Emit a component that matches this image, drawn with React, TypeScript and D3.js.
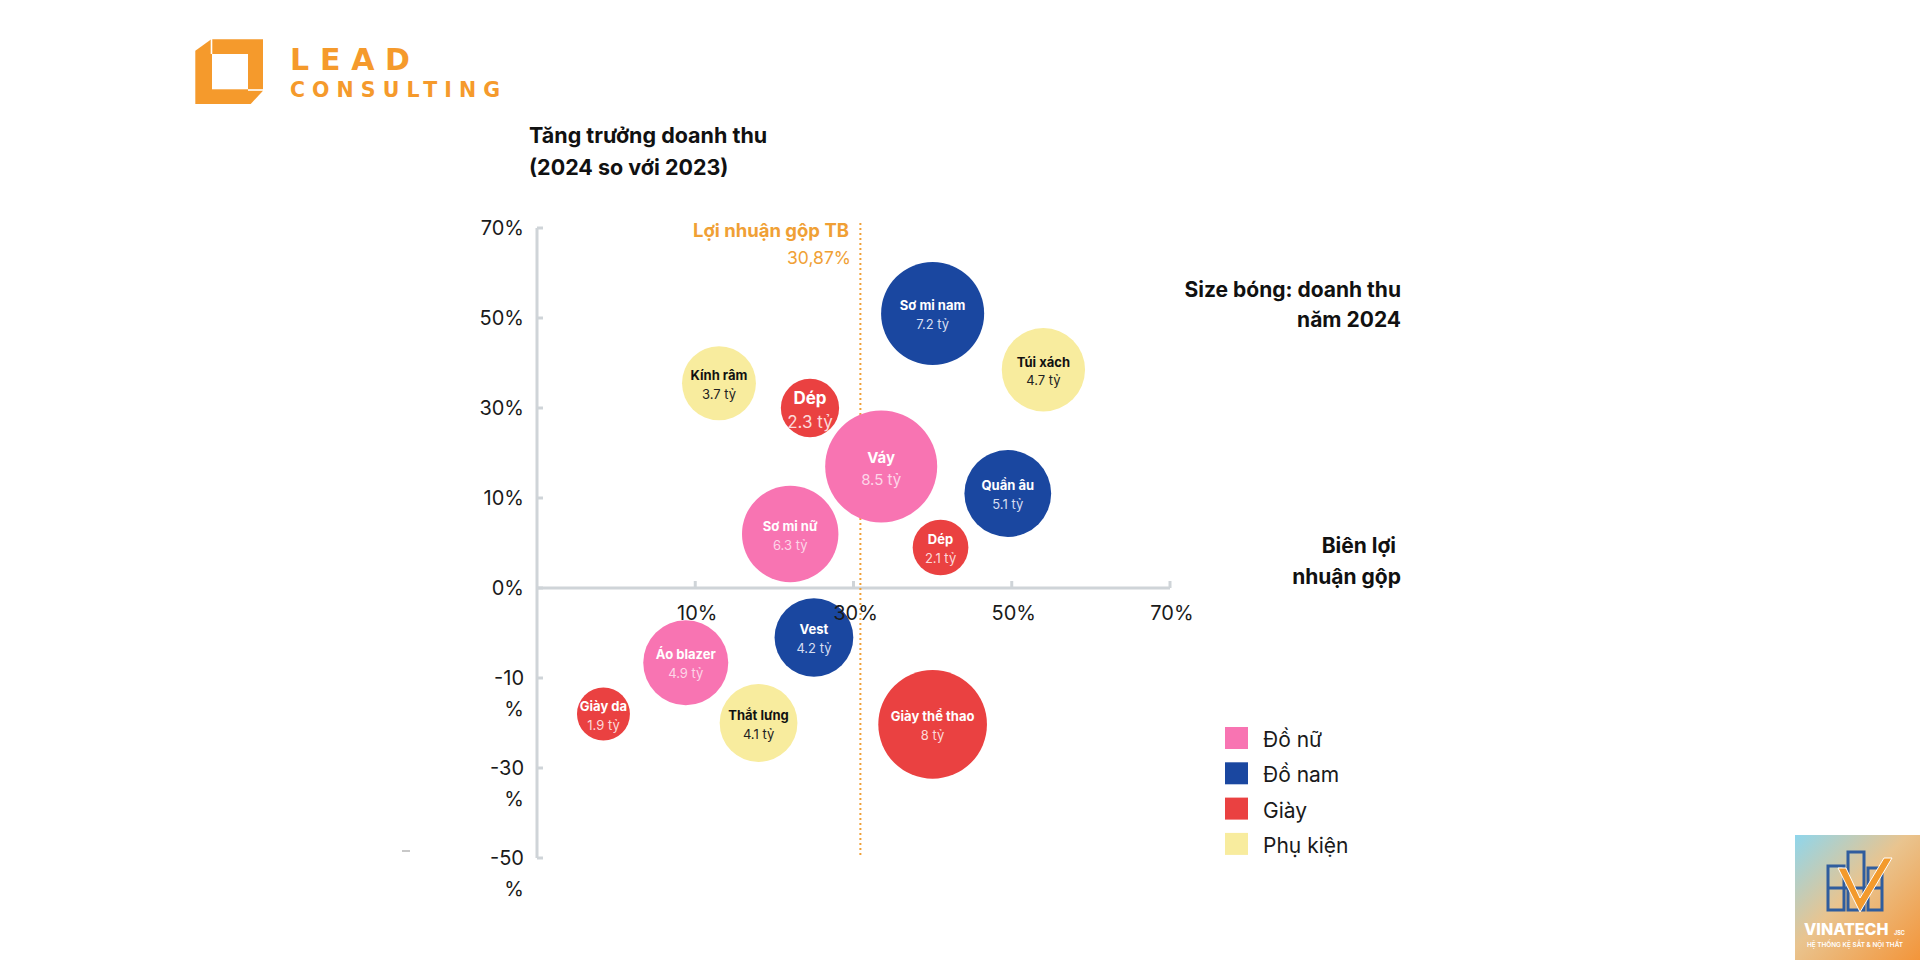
import React from "react";
import * as d3 from "d3";

// biên lợi nhuận gộp (%), tăng trưởng doanh thu 2024/2023 (%), doanh thu 2024 (tỷ)
const products = ["Sơ mi nam", "Túi xách", "Kính râm", "Dép", "Váy", "Quần âu", "Sơ mi nữ", "Dép", "Vest", "Áo blazer", "Giày da", "Thắt lưng", "Giày thể thao"];
const productGroup = ["Đồ nam", "Phụ kiện", "Phụ kiện", "Giày", "Đồ nữ", "Đồ nam", "Đồ nữ", "Giày", "Đồ nam", "Đồ nữ", "Giày", "Phụ kiện", "Giày"];
const grossMargin = [40, 54, 13, 24.5, 33.5, 49.5, 22, 41, 25, 9.4, 4.2, 18, 40];
const revenueGrowth = [51, 38.5, 35.5, 30, 17, 11, 6, 4.5, -5.5, -8.3, -18, -20, -20.3];
const revenue = [7.2, 4.7, 3.7, 2.3, 8.5, 5.1, 6.3, 2.1, 4.2, 4.9, 1.9, 4.1, 8];

const groups = ["Đồ nữ", "Đồ nam", "Giày", "Phụ kiện"];
const groupColors = ["#f874b2", "#1a47a0", "#ea4141", "#f8ec9e"];

const xTicks = [10, 30, 50, 70];
const yTicks = [70, 50, 30, 10, 0, -10, -30, -50];
const avgMargin = 30.87;

const FONT = "Inter, 'Noto Sans', sans-serif";
const ORANGE = "#f0a035";
const AXIS = "#cfd4d8";

// the axes are spaced evenly per tick, so both scales are piecewise linear
const X0 = 537, XSTEP = 158.25;
const Y0 = 228, YSTEP = 90;
const xDomain = [0, ...xTicks];
const x = d3.scaleLinear().domain(xDomain).range(xDomain.map((_, i) => X0 + i * XSTEP));
const y = d3.scaleLinear().domain(yTicks).range(yTicks.map((_, i) => Y0 + i * YSTEP));
const r = d3.scaleSqrt().domain([0, 8.5]).range([0, 56]);
const color = d3.scaleOrdinal<string, string>().domain(groups).range(groupColors);

const nameInk: Record<string, string> = { "Đồ nữ": "#ffffff", "Đồ nam": "#ffffff", "Giày": "#ffffff", "Phụ kiện": "#111111" };
const valueInk: Record<string, string> = { "Đồ nữ": "#fdd6e8", "Đồ nam": "#d6def2", "Giày": "#fcd9d9", "Phụ kiện": "#222222" };
// a couple of bubbles carry larger labels
const labelPx: Record<number, number> = { 3: 17, 4: 15 };

const bubbles = products.map((name, i) => ({
  name,
  group: productGroup[i],
  margin: grossMargin[i],
  growth: revenueGrowth[i],
  rev: revenue[i],
  i,
}));

const Logo = () => (
  <g>
    <path d="M195.3,50.7 L211.3,39.3 L263,39.3 L263,90.7 L250.7,104 L195.3,104 Z" fill="#f59a2c" />
    <rect x={212} y={54} width={36} height={35.3} fill="#fff" />
    <line x1={211.5} y1={38} x2={211.5} y2={54} stroke="#fff" strokeWidth={1.6} />
    <line x1={248} y1={90} x2={264} y2={90} stroke="#fff" strokeWidth={1.6} />
    <text x={290} y={70} fontFamily="'DejaVu Sans', sans-serif" fontWeight={700} fontSize={30} fill="#f59a2c"
      textLength={120} lengthAdjust="spacing">LEAD</text>
    <text x={290} y={97} fontFamily="'DejaVu Sans', sans-serif" fontWeight={700} fontSize={20.5} fill="#f59a2c"
      textLength={210} lengthAdjust="spacing">CONSULTING</text>
  </g>
);

const Badge = () => (
  <g>
    <defs>
      <linearGradient id="badgeBg" x1="0" y1="0" x2="1" y2="1">
        <stop offset="0%" stopColor="#8fd6ec" />
        <stop offset="45%" stopColor="#e9c48f" />
        <stop offset="100%" stopColor="#f3953a" />
      </linearGradient>
    </defs>
    <rect x={1795} y={835} width={125} height={125} fill="url(#badgeBg)" />
    <g fill="none" stroke="#2f5d9e" strokeWidth={3}>
      <rect x={1828} y={866} width={16} height={44} />
      <rect x={1848} y={852} width={16} height={58} />
      <rect x={1868} y={868} width={14} height={42} />
      <line x1={1828} y1={888} x2={1882} y2={888} />
    </g>
    <path d="M1838,868 L1860,912 L1892,858 L1884,858 L1860,898 L1846,868 Z" fill="#f39a2c" stroke="#fff" strokeWidth={1} />
    <text x={1804} y={935} fontFamily={FONT} fontWeight={800} fontSize={16} fill="#fff">VINATECH</text>
    <text x={1894} y={935} fontFamily={FONT} fontWeight={700} fontSize={5.5} fill="#fff">JSC</text>
    <text x={1807} y={947} fontFamily={FONT} fontWeight={600} fontSize={6.2} fill="#fff"
      textLength={96} lengthAdjust="spacingAndGlyphs">HỆ THỐNG KỆ SẮT &amp; NỘI THẤT</text>
  </g>
);

const App = () => {
  const yTop = y(yTicks[0]);
  const yBottom = y(yTicks[yTicks.length - 1]);
  const xLeft = x(0);
  const xRight = x(xTicks[xTicks.length - 1]);
  const yZero = y(0);

  return (
    <svg width={1920} height={960} style={{ position: "absolute", left: 0, top: 0, background: "#fff" }}>
      <rect width={1920} height={960} fill="#fff" />
      <Logo />

      <text fontFamily={FONT} fontWeight={700} fontSize={21.5} fill="#111">
        <tspan x={529} y={143}>Tăng trưởng doanh thu</tspan>
        <tspan x={529} y={175}>(2024 so với 2023)</tspan>
      </text>

      <text fontFamily={FONT} fontWeight={700} fontSize={21} fill="#111" textAnchor="end">
        <tspan x={1401} y={297}>Size bóng: doanh thu</tspan>
        <tspan x={1401} y={327}>năm 2024</tspan>
      </text>

      <text fontFamily={FONT} fontWeight={700} fontSize={21} fill="#111" textAnchor="end">
        <tspan x={1396} y={553}>Biên lợi</tspan>
        <tspan x={1401} y={584}>nhuận gộp</tspan>
      </text>

      {/* axes */}
      <g stroke={AXIS} strokeWidth={3} fill="none">
        <line x1={xLeft} y1={yTop} x2={xLeft} y2={yBottom} />
        <line x1={xLeft} y1={yZero} x2={xRight} y2={yZero} />
        {yTicks.map((t) => (
          <line key={"yt" + t} x1={xLeft} x2={xLeft + 6} y1={y(t)} y2={y(t)} />
        ))}
        {xTicks.map((t) => (
          <line key={"xt" + t} x1={x(t)} x2={x(t)} y1={yZero} y2={yZero - 7} />
        ))}
      </g>
      <line x1={402} x2={410} y1={851} y2={851} stroke="#c8c8c8" strokeWidth={2} />

      {/* average gross margin */}
      <line x1={x(avgMargin)} x2={x(avgMargin)} y1={223} y2={yBottom} stroke={ORANGE}
        strokeWidth={2} strokeDasharray="2 3" />
      <text x={849} y={237} textAnchor="end" fontFamily={FONT} fontWeight={700} fontSize={18.5} fill={ORANGE}>
        Lợi nhuận gộp TB
      </text>
      <text x={851} y={264} textAnchor="end" fontFamily={FONT} fontWeight={400} fontSize={17.5} fill={ORANGE}>
        {String(avgMargin).replace(".", ",")}%
      </text>

      {/* bubbles */}
      {bubbles.map((b) => {
        const cx = x(b.margin);
        const cy = y(b.growth);
        const fs = labelPx[b.i] ?? 13;
        return (
          <g key={"b" + b.i}>
            <circle cx={cx} cy={cy} r={r(b.rev)} fill={color(b.group)} />
            <text x={cx} y={cy - fs * 0.25} textAnchor="middle" fontFamily={FONT} fontWeight={700}
              fontSize={fs} fill={nameInk[b.group]}>{b.name}</text>
            <text x={cx} y={cy + fs * 1.2} textAnchor="middle" fontFamily={FONT} fontWeight={400}
              fontSize={fs} fill={valueInk[b.group]}>{`${b.rev} tỷ`}</text>
          </g>
        );
      })}

      {/* tick labels sit above the bubbles */}
      <g fontFamily={FONT} fontSize={20} fontWeight={400} fill="#1a1a1a">
        {yTicks.map((t) =>
          t < 0 ? (
            <text key={"yl" + t} textAnchor="end">
              <tspan x={524} y={y(t) + 7}>{`-${Math.abs(t)}`}</tspan>
              <tspan x={524} y={y(t) + 38}>%</tspan>
            </text>
          ) : (
            <text key={"yl" + t} x={524} y={y(t) + 7} textAnchor="end">{`${t}%`}</text>
          )
        )}
        {xTicks.map((t) => (
          <text key={"xl" + t} x={x(t) + 2} y={yZero + 32} textAnchor="middle">{`${t}%`}</text>
        ))}
      </g>

      {/* legend */}
      <g fontFamily={FONT} fontSize={21} fill="#1a1a1a">
        {groups.map((g, i) => (
          <g key={"lg" + g} transform={`translate(1225,${727 + i * 35.3})`}>
            <rect width={23} height={22} fill={color(g)} />
            <text x={38} y={20}>{g}</text>
          </g>
        ))}
      </g>

      <Badge />
    </svg>
  );
};

export default App;
